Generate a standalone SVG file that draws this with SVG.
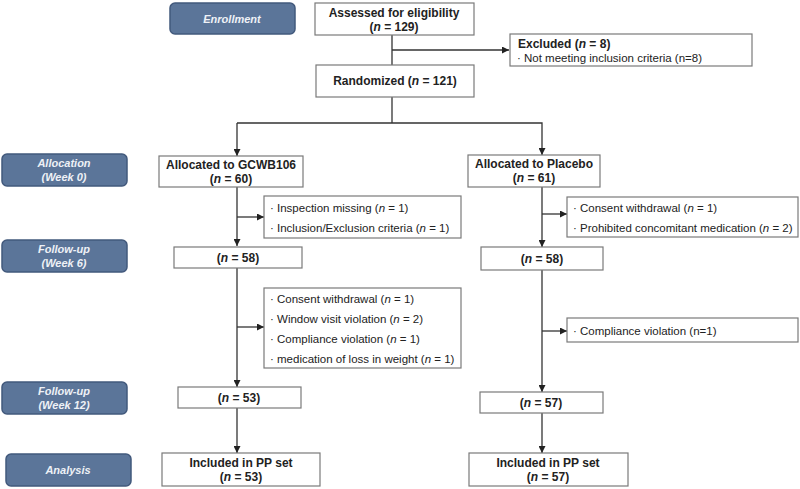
<svg xmlns="http://www.w3.org/2000/svg" width="800" height="489" viewBox="0 0 800 489">
<style>
.lbl{fill:#5b7599;stroke:#42597c;stroke-width:1.5}
.lt{font-family:"Liberation Sans",Arial,sans-serif;font-size:11px;font-weight:bold;font-style:italic;fill:#eef1f6;text-anchor:middle}
.box{fill:#fff;stroke:#7a7a7a;stroke-width:1.2}
.bt{font-family:"Liberation Sans",Arial,sans-serif;font-size:12px;font-weight:bold;fill:#222;text-anchor:middle}
.bs{font-family:"Liberation Sans",Arial,sans-serif;font-size:12px;font-weight:bold;fill:#222;text-anchor:start}
.st{font-family:"Liberation Sans",Arial,sans-serif;font-size:11.5px;fill:#222}
.ln{fill:none;stroke:#333;stroke-width:1.3}
</style>
<defs>
<marker id="ah" viewBox="0 0 10 10" refX="10" refY="5" markerWidth="7" markerHeight="7" markerUnits="userSpaceOnUse" orient="auto">
<path d="M0,0 L10,5 L0,10 z" fill="#222"/>
</marker>
</defs>
<rect width="800" height="489" fill="#fff"/>

<g id="stage-labels">
<g id="lbl-enrollment"><rect class="lbl" x="170" y="3" width="125" height="31" rx="5"/><text class="lt" x="232" y="23">Enrollment</text></g>
<g id="lbl-allocation"><rect class="lbl" x="2" y="154" width="125" height="32" rx="5"/><text class="lt" x="64" y="167">Allocation</text><text class="lt" x="64" y="181">(Week 0)</text></g>
<g id="lbl-fu6"><rect class="lbl" x="2" y="240" width="125" height="32" rx="5"/><text class="lt" x="64" y="253">Follow-up</text><text class="lt" x="64" y="267">(Week 6)</text></g>
<g id="lbl-fu12"><rect class="lbl" x="2" y="382" width="125" height="32" rx="5"/><text class="lt" x="64" y="395">Follow-up</text><text class="lt" x="64" y="409">(Week 12)</text></g>
<g id="lbl-analysis"><rect class="lbl" x="6" y="454" width="125" height="32" rx="5"/><text class="lt" x="68" y="474">Analysis</text></g>
</g>

<g id="connectors">
<line class="ln" x1="392" y1="35" x2="392" y2="65"/>
<line class="ln" x1="392" y1="50" x2="509" y2="50" marker-end="url(#ah)"/>
<polyline class="ln" points="392,97 392,123"/>
<polyline class="ln" points="237,123 542,123 542,155" marker-end="url(#ah)"/>
<line class="ln" x1="237" y1="123" x2="237" y2="156" marker-end="url(#ah)"/>
<line class="ln" x1="237" y1="187" x2="237" y2="246" marker-end="url(#ah)"/>
<line class="ln" x1="237" y1="217" x2="264" y2="217" marker-end="url(#ah)"/>
<line class="ln" x1="237" y1="268" x2="237" y2="387" marker-end="url(#ah)"/>
<line class="ln" x1="237" y1="327" x2="264" y2="327" marker-end="url(#ah)"/>
<line class="ln" x1="237" y1="408" x2="237" y2="453" marker-end="url(#ah)"/>
<line class="ln" x1="542" y1="187" x2="542" y2="247" marker-end="url(#ah)"/>
<line class="ln" x1="542" y1="214" x2="567" y2="214" marker-end="url(#ah)"/>
<line class="ln" x1="542" y1="270" x2="542" y2="392" marker-end="url(#ah)"/>
<line class="ln" x1="542" y1="331" x2="567" y2="331" marker-end="url(#ah)"/>
<line class="ln" x1="542" y1="413" x2="542" y2="453" marker-end="url(#ah)"/>
</g>

<g id="assessed"><rect class="box" x="315" y="3" width="159" height="32"/><text class="bt" x="394" y="17">Assessed for eligibility</text><text class="bt" x="394" y="31">(<tspan font-style="italic">n</tspan> = 129)</text></g>
<g id="excluded"><rect class="box" x="510" y="34" width="242" height="32"/><text class="bs" x="518" y="48">Excluded (<tspan font-style="italic">n</tspan> = 8)</text><text class="st" x="517" y="62">· Not meeting inclusion criteria (n=8)</text></g>
<g id="randomized"><rect class="box" x="316" y="65" width="158" height="32"/><text class="bt" x="395" y="85">Randomized (<tspan font-style="italic">n</tspan> = 121)</text></g>

<g id="alloc-gcwb"><rect class="box" x="159" y="156" width="144" height="31"/><text class="bt" x="231" y="169">Allocated to GCWB106</text><text class="bt" x="231" y="183">(<tspan font-style="italic">n</tspan> = 60)</text></g>
<g id="alloc-placebo"><rect class="box" x="468" y="155" width="132" height="32"/><text class="bt" x="534" y="168">Allocated to Placebo</text><text class="bt" x="534" y="182">(<tspan font-style="italic">n</tspan> = 61)</text></g>

<g id="excl-gcwb-1"><rect class="box" x="264" y="196" width="197" height="42"/><text class="st" x="270" y="212">· Inspection missing (<tspan font-style="italic">n</tspan> = 1)</text><text class="st" x="270" y="232">· Inclusion/Exclusion criteria (<tspan font-style="italic">n</tspan> = 1)</text></g>
<g id="excl-placebo-1"><rect class="box" x="567" y="197" width="231" height="40"/><text class="st" x="573" y="212">· Consent withdrawal (<tspan font-style="italic">n</tspan> = 1)</text><text class="st" x="573" y="232">· Prohibited concomitant medication (<tspan font-style="italic">n</tspan> = 2)</text></g>

<g id="gcwb-w6"><rect class="box" x="174" y="247" width="128" height="21"/><text class="bt" x="238" y="262">(<tspan font-style="italic">n</tspan> = 58)</text></g>
<g id="placebo-w6"><rect class="box" x="481" y="247" width="122" height="23"/><text class="bt" x="542" y="263">(<tspan font-style="italic">n</tspan> = 58)</text></g>

<g id="excl-gcwb-2"><rect class="box" x="264" y="288" width="197" height="80"/><text class="st" x="270" y="303">· Consent withdrawal (<tspan font-style="italic">n</tspan> = 1)</text><text class="st" x="270" y="323">· Window visit violation  (<tspan font-style="italic">n</tspan> = 2)</text><text class="st" x="270" y="343">· Compliance violation (<tspan font-style="italic">n</tspan> = 1)</text><text class="st" x="270" y="363">· medication of loss in weight  (<tspan font-style="italic">n</tspan> = 1)</text></g>
<g id="excl-placebo-2"><rect class="box" x="567" y="318" width="231" height="24"/><text class="st" x="573" y="335">· Compliance violation (n=1)</text></g>

<g id="gcwb-w12"><rect class="box" x="178" y="387" width="123" height="21"/><text class="bt" x="239" y="402">(<tspan font-style="italic">n</tspan> = 53)</text></g>
<g id="placebo-w12"><rect class="box" x="480" y="392" width="123" height="21"/><text class="bt" x="541" y="407">(<tspan font-style="italic">n</tspan> = 57)</text></g>

<g id="pp-gcwb"><rect class="box" x="162" y="453" width="158" height="33"/><text class="bt" x="241" y="467">Included in PP set</text><text class="bt" x="241" y="481">(<tspan font-style="italic">n</tspan> = 53)</text></g>
<g id="pp-placebo"><rect class="box" x="469" y="453" width="159" height="33"/><text class="bt" x="548" y="467">Included in PP set</text><text class="bt" x="548" y="481">(<tspan font-style="italic">n</tspan> = 57)</text></g>
</svg>
